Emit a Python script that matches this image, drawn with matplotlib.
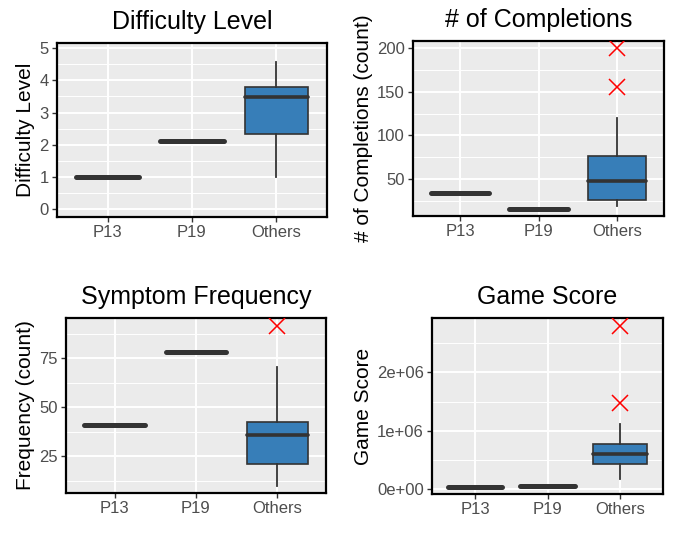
import matplotlib
matplotlib.use("Agg")
from matplotlib import pyplot as plt

plt.rcParams['font.family'] = ['Liberation Sans', 'DejaVu Sans']

groups = ['P13', 'P19', 'Others']

# difficulty level
diff_single = [1.0, 2.13]
diff_others = [1.0, 2.35, 3.48, 3.79, 4.57]   # whislo, q1, med, q3, whishi
diff_fliers = []

# completions
comp_single = [34.3, 15.0]
comp_others = [19.4, 25.9, 47.7, 76.8, 120.4]
comp_fliers = [156, 200]

# symptom frequency
freq_single = [40.8, 78.1]
freq_others = [9.7, 20.9, 35.8, 42.5, 70.6]
freq_fliers = [91.7]

# game score
score_single = [0.04e6, 0.057e6]
score_others = [0.166e6, 0.424e6, 0.596e6, 0.774e6, 1.117e6]
score_fliers = [1.473e6, 2.80e6]

box_fill = '#377EB8'
line_col = '#333333'


def make_stats(single, others, fliers):
    stats = []
    for lab, v in zip(groups[:2], single):
        stats.append({'label': lab, 'whislo': v, 'q1': v, 'med': v,
                      'q3': v, 'whishi': v, 'fliers': []})
    lo, q1, med, q3, hi = others
    stats.append({'label': groups[2], 'whislo': lo, 'q1': q1, 'med': med,
                  'q3': q3, 'whishi': hi, 'fliers': fliers})
    return stats


def panel(rect, stats, title, ylabel, ylim, majors, minors, ticklabels=None):
    ax = fig.add_axes(rect)
    ax.set_facecolor('#EBEBEB')
    bp = ax.bxp(stats, positions=[1, 2, 3], widths=0.75, patch_artist=True,
                showcaps=False,
                boxprops=dict(facecolor=box_fill, edgecolor=line_col, linewidth=1.2),
                whiskerprops=dict(color=line_col, linewidth=1.3),
                medianprops=dict(color=line_col, linewidth=2.6, solid_capstyle='round'),
                flierprops=dict(marker='x', markeredgecolor='red', markersize=11,
                                markeredgewidth=1.1, linestyle='none'),
                zorder=3)
    # single-value groups collapse into one thick bar
    for m in bp['medians'][:2]:
        m.set_linewidth(3.6)
    ax.set_xlim(0.4, 3.6)
    ax.set_ylim(*ylim)
    ax.set_yticks(majors)
    ax.set_yticks(minors, minor=True)
    if ticklabels is not None:
        ax.set_yticklabels(ticklabels)
    ax.set_xticks([1, 2, 3])
    ax.set_xticklabels(groups)
    ax.grid(True, which='major', color='white', linewidth=1.4, zorder=0)
    ax.grid(True, which='minor', axis='y', color='white', linewidth=0.7, zorder=0)
    ax.set_axisbelow(True)
    ax.tick_params(which='major', length=3.5, width=1, color='#333333',
                   labelcolor='#4D4D4D', labelsize=12, pad=2.5)
    ax.tick_params(which='minor', length=0)
    for s in ax.spines.values():
        s.set_color('black')
        s.set_linewidth(1.6)
    ax.set_title(title, fontsize=18, pad=10)
    ax.set_ylabel(ylabel, fontsize=15, labelpad=3)
    return ax


W, H = 675, 555
fig = plt.figure(figsize=(W / 100, H / 100), dpi=100)


def r(l, rgt, t, b):
    return [l / W, 1 - b / H, (rgt - l) / W, (b - t) / H]


panel(r(57, 327, 43, 217), make_stats(diff_single, diff_others, diff_fliers),
      'Difficulty Level', 'Difficulty Level', (-0.24, 5.16),
      [0, 1, 2, 3, 4, 5], [0.5, 1.5, 2.5, 3.5, 4.5])
panel(r(413, 664, 41, 216), make_stats(comp_single, comp_others, comp_fliers),
      '# of Completions', '# of Completions (count)', (7.5, 208.4),
      [50, 100, 150, 200], [25, 75, 125, 175])
panel(r(66, 326, 318, 493), make_stats(freq_single, freq_others, freq_fliers),
      'Symptom Frequency', 'Frequency (count)', (6.3, 95.6),
      [25, 50, 75], [12.5, 37.5, 62.5, 87.5])
panel(r(432, 663, 318, 494), make_stats(score_single, score_others, score_fliers),
      'Game Score', 'Game Score', (-0.086e6, 2.934e6),
      [0, 1e6, 2e6], [0.5e6, 1.5e6, 2.5e6], ['0e+00', '1e+06', '2e+06'])

fig.savefig('out.png', dpi=100)
